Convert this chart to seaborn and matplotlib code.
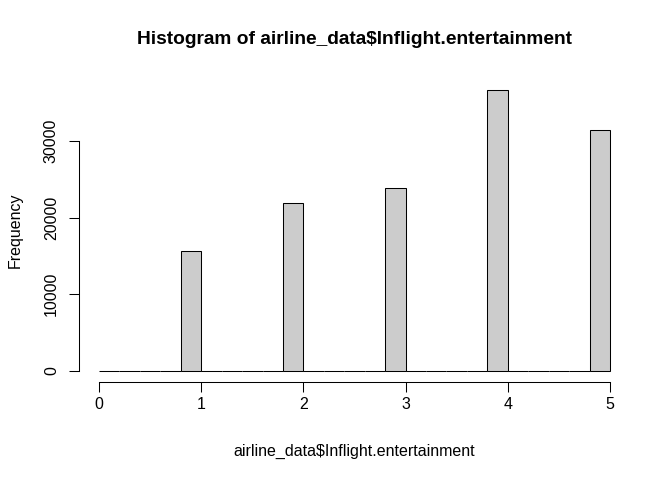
import matplotlib
matplotlib.use("Agg")
import matplotlib.pyplot as plt
import numpy as np
import pandas as pd
import seaborn as sns

# ratings and how many passengers gave each one
ratings = [0, 1, 2, 3, 4, 5]
counts = [18, 15650, 21930, 23850, 36700, 31480]

title = "Histogram of airline_data$Inflight.entertainment"
xlabel = "airline_data$Inflight.entertainment"
ylabel = "Frequency"
yticks = [0, 10000, 20000, 30000]
xticks = [0, 1, 2, 3, 4, 5]

sns.set_style("white")
plt.rcParams["font.family"] = ["Liberation Sans", "DejaVu Sans"]
plt.rcParams["text.color"] = "black"

# R's hist(): breaks every 0.2, right-closed intervals, lowest included
edges = np.round(np.arange(0, 5.0001, 0.2), 1)
df = pd.DataFrame({"rating": ratings, "n": counts})
df["bin"] = pd.cut(df["rating"], bins=edges, right=True, include_lowest=True)
per_bin = df.groupby("bin", observed=False)["n"].sum().to_numpy()
hist_df = pd.DataFrame({"mid": (edges[:-1] + edges[1:]) / 2, "n": per_bin})

fig = plt.figure(figsize=(6.72, 4.8), dpi=100)
W, H = 672, 480
left, right, bottom, top = 78.6, 630.4, 381.9, 78.8
ax = fig.add_axes([left / W, 1 - bottom / H, (right - left) / W, (bottom - top) / H])

sns.histplot(data=hist_df, x="mid", weights="n", bins=list(edges), color="#CCCCCC",
             edgecolor="black", linewidth=0.75, alpha=1, ax=ax)

xr = edges[-1] - edges[0]
ax.set_xlim(edges[0] - 0.04 * xr, edges[-1] + 0.04 * xr)
ymax = per_bin.max()
ax.set_ylim(-0.04 * ymax, 1.04 * ymax)

ax.set_xticks(xticks)
ax.set_yticks(yticks)
ax.set_yticklabels([str(t) for t in yticks], rotation=90, va="center")
ax.tick_params(axis="both", direction="out", length=7.2, width=0.75,
               color="black", labelsize=11.5, labelcolor="black",
               bottom=True, left=True)
ax.tick_params(axis="x", pad=3.5)
ax.tick_params(axis="y", pad=7.0)

for s in ["top", "right"]:
    ax.spines[s].set_visible(False)
for s in ["left", "bottom"]:
    ax.spines[s].set_color("black")
    ax.spines[s].set_linewidth(0.75)
ax.spines["left"].set_bounds(yticks[0], yticks[-1])
ax.spines["bottom"].set_bounds(xticks[0], xticks[-1])
ax.set_xlabel("")
ax.set_ylabel("")
ax.grid(False)

fig.text((left + right) / 2 / W, 1 - 40 / H, title, ha="center", va="center",
         fontsize=13.8, fontweight="bold", color="black")
fig.text((left + right) / 2 / W, 1 - 451 / H, xlabel, ha="center", va="center",
         fontsize=11.5, color="black")
fig.text(15.5 / W, 1 - ((top + bottom) / 2) / H, ylabel, ha="center", va="center",
         rotation=90, fontsize=11.5, color="black")

fig.savefig("out.png", dpi=100, facecolor="white")
